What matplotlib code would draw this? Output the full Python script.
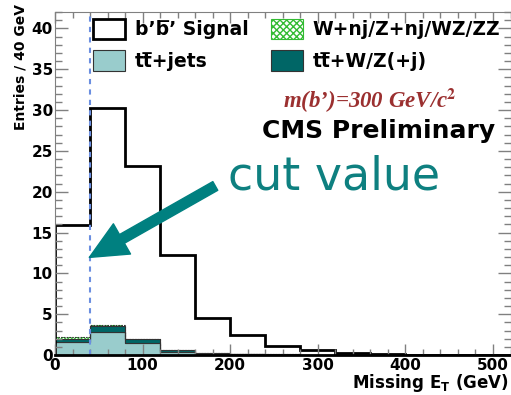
import numpy as np
import matplotlib
matplotlib.use("Agg")
import matplotlib.pyplot as plt
from matplotlib.patches import Patch
from matplotlib.ticker import MultipleLocator

# Missing E_T histograms, 40 GeV bins from 0 to 520 GeV
bin_edges = np.arange(0, 521, 40)
signal = [15.9, 30.3, 23.1, 12.3, 4.5, 2.4, 1.15, 0.6, 0.3, 0.12, 0.0, 0.0, 0.0]
tt_jets = [1.6, 2.85, 1.5, 0.42, 0.12, 0.08, 0.05, 0.03, 0.02, 0.01, 0.0, 0.0, 0.0]
tt_wz = [0.35, 0.72, 0.4, 0.2, 0.08, 0.05, 0.03, 0.02, 0.01, 0.0, 0.0, 0.0, 0.0]
w_z_jets = [0.25, 0.05, 0.03, 0.02, 0.0, 0.0, 0.0, 0.0, 0.0, 0.0, 0.0, 0.0, 0.0]
cut_value = 40

labels = ["b\u2019b\u0305\u2019 Signal", "tt\u0305+jets",
          "W+nj/Z+nj/WZ/ZZ", "tt\u0305+W/Z(+j)"]

W, H = 511, 395
fig = plt.figure(figsize=(W / 100, H / 100), dpi=100)
ax = fig.add_axes([55 / W, 1 - 355 / H, (510.5 - 55) / W, (355 - 12) / H])

c_ttj = "#99cccc"
c_ttv = "#006666"
c_wz = "#33bb33"
edge = "#333333"

s1 = np.array(tt_jets)
s2 = s1 + np.array(tt_wz)
s3 = s2 + np.array(w_z_jets)
ax.stairs(s1, bin_edges, baseline=0, fill=True, facecolor=c_ttj, edgecolor=edge, lw=0.8)
ax.stairs(s2, bin_edges, baseline=s1, fill=True, facecolor=c_ttv, edgecolor=edge, lw=0.8)
ax.stairs(s3, bin_edges, baseline=s2, fill=True, facecolor="white", edgecolor=c_wz,
          hatch="xxxxx", lw=0)
ax.stairs(s3, bin_edges, baseline=None, fill=False, color=edge, lw=0.8, ls=(0, (1.5, 1)))
ax.stairs(signal, bin_edges, baseline=0, fill=False, color="black", lw=2)

ax.axvline(cut_value, color="#6a8ee0", ls=(0, (2.5, 2.5)), lw=1.5)

ax.set_xlim(0, 520)
ax.set_ylim(0, 42)
ax.xaxis.set_major_locator(MultipleLocator(100))
ax.xaxis.set_minor_locator(MultipleLocator(20))
ax.yaxis.set_major_locator(MultipleLocator(5))
ax.yaxis.set_minor_locator(MultipleLocator(1))
ax.tick_params(axis="both", which="both", direction="in", top=True, right=True,
               color="#808080", width=1.0)
ax.tick_params(axis="x", which="major", length=8, pad=2)
ax.tick_params(axis="x", which="minor", length=4.5)
ax.tick_params(axis="y", which="major", length=9.5, pad=1.5)
ax.tick_params(axis="y", which="minor", length=5)
for lab in ax.get_xticklabels() + ax.get_yticklabels():
    lab.set_fontweight("bold")
    lab.set_fontsize(11)
for side in ("left", "top", "right"):
    ax.spines[side].set_color("#808080")
    ax.spines[side].set_linewidth(0.8)
ax.spines["bottom"].set_color("black")
ax.spines["bottom"].set_linewidth(2)

handles = [
    Patch(facecolor="white", edgecolor="black", lw=2),
    Patch(facecolor=c_ttj, edgecolor=edge, lw=0.8),
    Patch(facecolor="white", edgecolor=c_wz, hatch="xxxxx", lw=0.8),
    Patch(facecolor=c_ttv, edgecolor=edge, lw=0.8),
]
fs = 13.5
px = fs * 100 / 72
ax.legend(handles, labels, ncol=2, loc="upper left",
          bbox_to_anchor=(93 / W, 1 - 19 / H), bbox_transform=fig.transFigure,
          frameon=False, borderpad=0, borderaxespad=0,
          handlelength=32 / px, handleheight=24 / px, labelspacing=11 / px,
          handletextpad=10 / px, columnspacing=22 / px,
          prop={"family": "DejaVu Sans", "weight": "bold", "size": fs})

fig.text(283 / W, 1 - 108 / H, "m(b\u2019)=300 GeV/c$^{\\mathbf{2}}$",
         family="Liberation Serif", style="italic", weight="bold",
         math_fontfamily="stix", fontsize=16.5, color="#9b3030",
         ha="left", va="baseline")
fig.text(262 / W, 1 - 138 / H, "CMS Preliminary", family="DejaVu Sans",
         weight="bold", fontsize=18, color="black", ha="left", va="baseline")

ax.annotate("", xy=(39.2, 11.95), xytext=(183, 20.7),
            arrowprops=dict(arrowstyle="simple,head_length=1.35,head_width=1.25,tail_width=0.36",
                            mutation_scale=20, color="#008080", shrinkA=0, shrinkB=0))
fig.text(228 / W, 1 - 189 / H, "cut value", family="DejaVu Sans", fontsize=33,
         color="#0e8080", ha="left", va="baseline")

fig.text(509 / W, 1 - 388 / H, "Missing E$_\\mathbf{T}$ (GeV)", family="DejaVu Sans",
         weight="bold", fontsize=12, ha="right", va="baseline")
fig.text(21 / W, 1 - 4 / H, "Entries / 40 GeV", family="DejaVu Sans",
         weight="bold", fontsize=10, rotation=90, ha="center", va="top")

fig.savefig("out.png", dpi=100)
